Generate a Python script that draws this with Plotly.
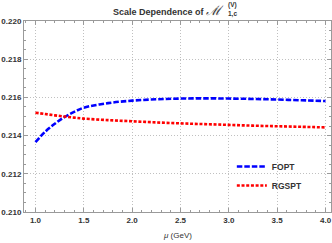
import plotly.graph_objects as go

mu = [1.0, 1.1, 1.2, 1.3, 1.4, 1.5, 1.75, 2.0, 2.25, 2.5, 2.75, 3.0, 3.25, 3.5, 3.75, 4.0]
fopt = [0.21366, 0.21420, 0.21462, 0.21497, 0.21524, 0.21546, 0.21570, 0.21583, 0.21590,
        0.21594, 0.21595, 0.21594, 0.21592, 0.21589, 0.21585, 0.21581]
rgspt = [0.21520, 0.21513, 0.21506, 0.21500, 0.21494, 0.21489, 0.21481, 0.21475, 0.21469,
         0.21464, 0.21460, 0.21456, 0.21452, 0.21449, 0.21446, 0.21443]
x_ticks = [1.0, 1.5, 2.0, 2.5, 3.0, 3.5, 4.0]
y_ticks = [0.210, 0.212, 0.214, 0.216, 0.218, 0.220]

W, H = 332, 243
L, R, T, B = 23.5, 331.5, 21, 212

def px(x):
    return (x - L) / (R - L)

def py(y):
    return (B - y) / (B - T)

FONT = "Liberation Sans"

fig = go.Figure()
fig.add_trace(go.Scatter(x=mu, y=fopt, mode="lines", name="FOPT", line_shape="spline",
                         line=dict(color="#0000ff", width=2.6, dash="5.5px,2px")))
fig.add_trace(go.Scatter(x=mu, y=rgspt, mode="lines", name="RGSPT", line_shape="spline",
                         line=dict(color="#ff0000", width=2.6, dash="3px,1.7px")))

axis_common = dict(
    showline=True, linecolor="#9a9a9a", linewidth=1, mirror="ticks",
    ticks="inside", ticklen=4, tickcolor="#9a9a9a", tickwidth=1,
    showgrid=True, gridcolor="#c0c0c0", griddash="1px,2px", gridwidth=1,
    zeroline=False, automargin=False,
    tickfont=dict(family=FONT, size=8, color="#333333", weight="bold"),
)

fig.update_xaxes(range=[1.0 - 11.5 / 97.0, 4.0 + 5.5 / 97.0], tickvals=x_ticks,
                 ticktext=[f"{v:.1f}" for v in x_ticks],
                 minor=dict(dtick=0.1, ticklen=2, tickcolor="#9a9a9a", ticks="inside", showgrid=False),
                 **axis_common)
fig.update_yaxes(range=[0.210, 0.220], tickvals=y_ticks,
                 ticktext=[f"{v:.3f}" for v in y_ticks],
                 minor=dict(dtick=0.0005, ticklen=2, tickcolor="#9a9a9a", ticks="inside", showgrid=False),
                 **axis_common)

ann = []
ann.append(dict(text="<b>Scale Dependence of</b> <span style='font-size:13px'><i>ℳ</i></span>",
                x=px(226.5), y=py(10.5), xref="paper", yref="paper",
                xanchor="right", yanchor="middle", showarrow=False,
                font=dict(family=FONT, size=9, color="#333333")))
ann.append(dict(text="<b>(V)</b>", x=px(226.5), y=py(4.5), xref="paper", yref="paper",
                xanchor="left", yanchor="middle", showarrow=False,
                font=dict(family=FONT, size=6.5, color="#333333")))
ann.append(dict(text="<b>1,c</b>", x=px(226.5), y=py(14.5), xref="paper", yref="paper",
                xanchor="left", yanchor="middle", showarrow=False,
                font=dict(family=FONT, size=6.5, color="#333333")))
ann.append(dict(text="<i>μ</i> (GeV)", x=px(177), y=py(235), xref="paper", yref="paper",
                xanchor="center", yanchor="middle", showarrow=False,
                font=dict(family=FONT, size=8, color="#333333")))

fig.update_layout(
    width=W, height=H,
    margin=dict(l=L, r=W - R, t=T, b=H - B, autoexpand=False),
    paper_bgcolor="white", plot_bgcolor="white",
    showlegend=True,
    legend=dict(x=px(232), y=py(152), xanchor="left", yanchor="top",
                bgcolor="rgba(0,0,0,0)", tracegroupgap=0, itemwidth=30,
                font=dict(family=FONT, size=8.5, color="#333333", weight="bold")),
    annotations=ann,
)

fig.write_html("out.html", config={"displayModeBar": False},
               post_script="document.body.style.margin='0';document.body.style.padding='0';document.body.style.overflow='hidden';")
